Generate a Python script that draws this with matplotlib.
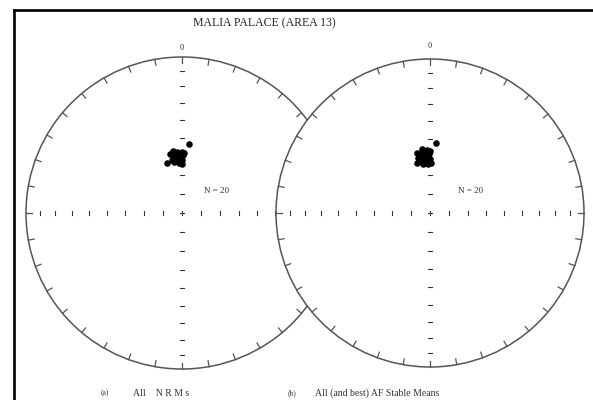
import matplotlib
matplotlib.use("Agg")
import matplotlib.pyplot as plt
import numpy as np
from matplotlib.lines import Line2D
from matplotlib.patches import Circle

# (a) All NRMs: declination / inclination (degrees)
nrm_dec = [5.8, 352.1, 355.6, 359.7, 1.9, 348.4, 354.0, 358.0, 351.0, 356.1,
           359.7, 343.7, 351.4, 356.9, 359.6, 349.0, 354.2, 1.3, 353.3, 357.8]
nrm_inc = [53.5, 56.9, 57.6, 58.1, 58.3, 58.5, 59.9, 60.4, 60.9, 61.8,
           62.2, 62.5, 63.0, 63.9, 64.5, 61.7, 62.4, 59.5, 58.4, 63.1]

# (b) All (and best) AF stable means
af_dec = [4.7, 352.6, 357.0, 0.0, 347.4, 351.3, 355.2, 359.0, 352.2, 356.6,
          347.9, 353.9, 0.0, 345.2, 350.8, 356.3, 1.1, 352.2, 358.0, 349.3]
af_inc = [52.5, 55.7, 56.3, 56.8, 57.4, 58.2, 58.1, 58.7, 59.8, 60.3,
          60.2, 61.3, 61.5, 62.4, 62.4, 63.0, 63.3, 63.7, 64.1, 61.3]

title = "MALIA PALACE (AREA 13)"
caption_a = ("(a)", "All    N R M s")
caption_b = ("(b)", "All (and best) AF Stable Means")
tick_incs = [10, 20, 30, 40, 50, 60, 70, 80]
W, H = 593, 400


def equal_area(dec, inc):
    dec = np.radians(np.asarray(dec, dtype=float))
    inc = np.asarray(inc, dtype=float)
    r = np.sqrt(2) * np.sin(np.radians(90 - inc) / 2)
    return r * np.sin(dec), r * np.cos(dec)


def draw_net(ax, dec, inc, n_xy, zero_y):
    lim = 1.1
    ax.set_xlim(-lim, lim)
    ax.set_ylim(-lim, lim)
    ax.set_aspect("equal")
    ax.axis("off")
    ax.patch.set_alpha(0)
    ax.add_patch(Circle((0, 0), 1, facecolor="white", edgecolor="#555555",
                        lw=1.1, zorder=1))
    # azimuth ticks every 10 degrees, pointing inwards
    for az in np.radians(np.arange(0, 360, 10)):
        s, c = np.sin(az), np.cos(az)
        ax.plot([s, 0.962 * s], [c, 0.962 * c], color="#555555", lw=0.9, zorder=2)
    # inclination ticks along the axes
    rr = np.sqrt(2) * np.sin(np.radians(90 - np.array(tick_incs)) / 2)
    t = 0.014
    for r in rr:
        for sgn in (1, -1):
            ax.plot([sgn * r, sgn * r], [-t, t], color="#333333", lw=0.8, zorder=2)
            ax.plot([-t, t], [sgn * r, sgn * r], color="#333333", lw=0.8, zorder=2)
    ax.plot([-0.016, 0.016], [0, 0], color="#333333", lw=0.8, zorder=2)
    ax.plot([0, 0], [-0.016, 0.016], color="#333333", lw=0.8, zorder=2)
    x, y = equal_area(dec, inc)
    ax.plot(x, y, "o", color="black", ms=3.7, mec="black", zorder=3)
    ax.text(0, zero_y, "0", ha="center", va="center", fontsize=6,
            family="Liberation Serif", color="#333333")
    ax.text(n_xy[0], n_xy[1], "N = %d" % len(dec), ha="left", va="center",
            fontsize=6.5, family="Liberation Serif", color="#333333")


def net_axes(fig, cx, cy, R):
    half = 1.1 * R
    return fig.add_axes([(cx - half) / W, (H - cy - half) / H,
                         2 * half / W, 2 * half / H])


fig = plt.figure(figsize=(W / 100, H / 100), dpi=100)

ax1 = net_axes(fig, 182, 213, 156)
draw_net(ax1, nrm_dec, nrm_inc, (0.141, 0.141), 1.06)
ax2 = net_axes(fig, 430, 213, 154)
draw_net(ax2, af_dec, af_inc, (0.18, 0.143), 1.085)

fig.text(264 / W, 1 - 23 / H, title, ha="center", va="center",
         fontsize=8.5, family="Liberation Serif", color="#222222")
fig.text(105 / W, 1 - 393 / H, caption_a[0], ha="center", va="center",
         fontsize=5.5, family="Liberation Serif", color="#333333")
fig.text(133 / W, 1 - 393 / H, caption_a[1], ha="left", va="center",
         fontsize=7, family="Liberation Serif", color="#333333")
fig.text(292 / W, 1 - 393 / H, caption_b[0], ha="center", va="center",
         fontsize=5.5, family="Liberation Serif", color="#333333")
fig.text(315 / W, 1 - 393 / H, caption_b[1], ha="left", va="center",
         fontsize=7, family="Liberation Serif", color="#333333")

# outer frame (left and top edges visible)
fig.add_artist(Line2D([13.5 / W, 13.5 / W], [0, 1 - 9.5 / H],
                      transform=fig.transFigure, color="black", lw=1.9))
fig.add_artist(Line2D([13.5 / W, 1], [1 - 9.5 / H, 1 - 9.5 / H],
                      transform=fig.transFigure, color="black", lw=1.9))

fig.savefig("out.png", dpi=100)
